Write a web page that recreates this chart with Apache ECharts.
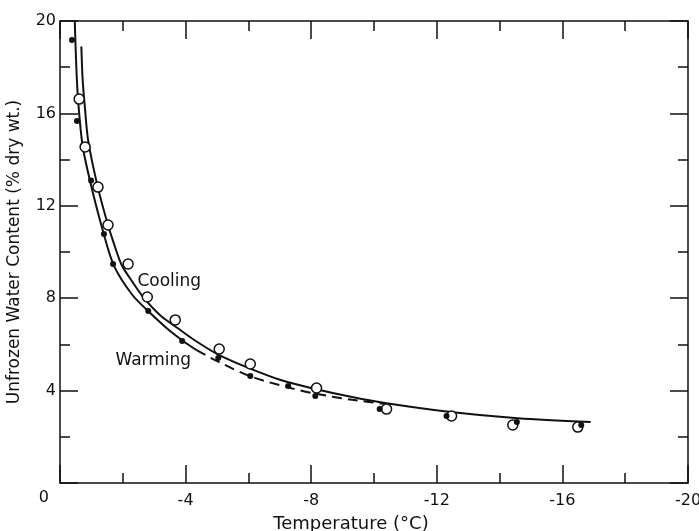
<!DOCTYPE html>
<html>
<head>
<meta charset="utf-8">
<script src="https://cdn.jsdelivr.net/npm/echarts@6/dist/echarts.min.js"></script>
<style>
html,body{margin:0;padding:0;background:#fff;}
#chart{width:699px;height:531px;}
</style>
</head>
<body>
<div id="chart"></div>
<script>
// ---- data ----
const xTicks = [0, -4, -8, -12, -16, -20];
const yTicks = [0, 4, 8, 12, 16, 20];

// Warming (filled dots): [temperature °C, unfrozen water %]
const warmingPoints = [
  [-0.38, 19.18], [-0.54, 15.67], [-0.99, 13.1], [-1.40, 10.78], [-1.69, 9.48],
  [-2.81, 7.45], [-3.89, 6.15], [-5.04, 5.41], [-6.06, 4.63], [-7.27, 4.2],
  [-8.13, 3.77], [-10.18, 3.2], [-12.31, 2.9], [-14.55, 2.64], [-16.6, 2.51]
];
// Cooling (open circles)
const coolingPoints = [
  [-0.61, 16.62], [-0.80, 14.55], [-1.21, 12.81], [-1.53, 11.17], [-2.17, 9.48],
  [-2.78, 8.05], [-3.67, 7.06], [-5.07, 5.8], [-6.06, 5.15], [-8.17, 4.11],
  [-10.40, 3.2], [-12.47, 2.9], [-14.42, 2.51], [-16.49, 2.42]
];
// Fitted curves
const warmingCurveSolid = [
  [-0.47, 20], [-0.52, 18], [-0.58, 16.5], [-0.72, 14.6], [-0.97, 13.0],
  [-1.37, 10.9], [-1.72, 9.4], [-2.3, 8.15], [-2.84, 7.4], [-3.4, 6.7],
  [-3.92, 6.15], [-4.35, 5.75]
];
const warmingCurveDashed = [
  [-4.35, 5.75], [-5.04, 5.25], [-6.06, 4.62], [-7.24, 4.15], [-8.13, 3.87],
  [-9.3, 3.6], [-10.4, 3.42]
];
const coolingCurve = [
  [-0.68, 18.9], [-0.72, 17.5], [-0.79, 16.3], [-0.9, 14.8], [-1.2, 12.83],
  [-1.5, 11.3], [-1.72, 10.35], [-1.96, 9.45], [-2.3, 8.72], [-2.65, 8.05],
  [-3.2, 7.25], [-3.73, 6.72], [-4.3, 6.17], [-5.04, 5.56], [-6.06, 4.95],
  [-7.0, 4.47], [-8.13, 4.07], [-9.3, 3.72], [-10.4, 3.45], [-12.44, 3.07],
  [-14.58, 2.8], [-16.9, 2.64]
];
const curveLabels = [
  { name: 'Cooling', value: [-3.48, 8.74] },
  { name: 'Warming', value: [-2.97, 5.32] }
];

// ---- chart ----
const FONT = 'DejaVu Sans';
const BLACK = '#111';
const chart = echarts.init(document.getElementById('chart'), null, { renderer: 'canvas' });

function axisCommon() {
  return {
    axisLine: { show: true, onZero: false, lineStyle: { color: BLACK, width: 1.5 } },
    axisTick: { show: true, inside: true, length: 18, lineStyle: { color: BLACK, width: 1.5 } },
    minorTick: { show: true, splitNumber: 2, length: 10, lineStyle: { color: BLACK, width: 1.5 } },
    splitLine: { show: false },
    minorSplitLine: { show: false }
  };
}

const option = {
  backgroundColor: '#fff',
  animation: false,
  grid: { left: 60, right: 11, top: 21, bottom: 48, containLabel: false, outerBoundsMode: 'none' },
  xAxis: [
    Object.assign({
      type: 'value', min: -20, max: 0, interval: 4, inverse: true, position: 'bottom',
      name: 'Temperature (°C)', nameLocation: 'middle', nameGap: 32,
      nameTextStyle: { fontFamily: FONT, fontSize: 18, color: BLACK, padding: [0, 46, 0, 0] },
      axisLabel: {
        fontFamily: FONT, fontSize: 16, color: BLACK, margin: 10,
        formatter: v => (v === 0 ? '' : String(v))
      }
    }, axisCommon()),
    Object.assign({
      type: 'value', min: -20, max: 0, interval: 4, inverse: true, position: 'top',
      axisLabel: { show: false }
    }, axisCommon())
  ],
  yAxis: [
    Object.assign({
      type: 'value', min: 0, max: 20, interval: 4, position: 'left',
      name: 'Unfrozen Water Content (% dry wt.)', nameLocation: 'middle', nameGap: 37,
      nameTextStyle: { fontFamily: FONT, fontSize: 17, color: BLACK },
      axisLabel: {
        fontFamily: FONT, fontSize: 16, color: BLACK, margin: 4,
        formatter: v => (v === 0 ? '{z|0}' : String(v)),
        rich: { z: { fontFamily: FONT, fontSize: 16, color: BLACK, padding: [30, 7, 0, 0] } }
      }
    }, axisCommon()),
    Object.assign({
      type: 'value', min: 0, max: 20, interval: 4, position: 'right',
      axisLabel: { show: false }
    }, axisCommon())
  ],
  series: [
    {
      type: 'line', data: warmingCurveSolid, smooth: 0.3, symbol: 'none', z: 2,
      lineStyle: { color: BLACK, width: 2 }
    },
    {
      type: 'line', data: warmingCurveDashed, smooth: 0.3, symbol: 'none', z: 2,
      lineStyle: { color: BLACK, width: 2, type: [10, 6] }
    },
    {
      type: 'line', data: coolingCurve, smooth: 0.3, symbol: 'none', z: 2,
      lineStyle: { color: BLACK, width: 2 }
    },
    {
      type: 'scatter', data: coolingPoints, symbol: 'circle', symbolSize: 10, z: 3,
      itemStyle: { color: '#fff', borderColor: BLACK, borderWidth: 1.5, opacity: 1 }
    },
    {
      type: 'scatter', data: warmingPoints, symbol: 'circle', symbolSize: 6, z: 4,
      itemStyle: { color: BLACK, opacity: 1 }
    },
    {
      type: 'scatter', data: curveLabels, symbolSize: 0, z: 5, silent: true,
      itemStyle: { opacity: 1 },
      label: {
        show: true, position: 'inside', formatter: p => p.name,
        fontFamily: FONT, fontSize: 17, color: BLACK, opacity: 1
      }
    }
  ]
};
chart.setOption(option);
</script>
</body>
</html>
